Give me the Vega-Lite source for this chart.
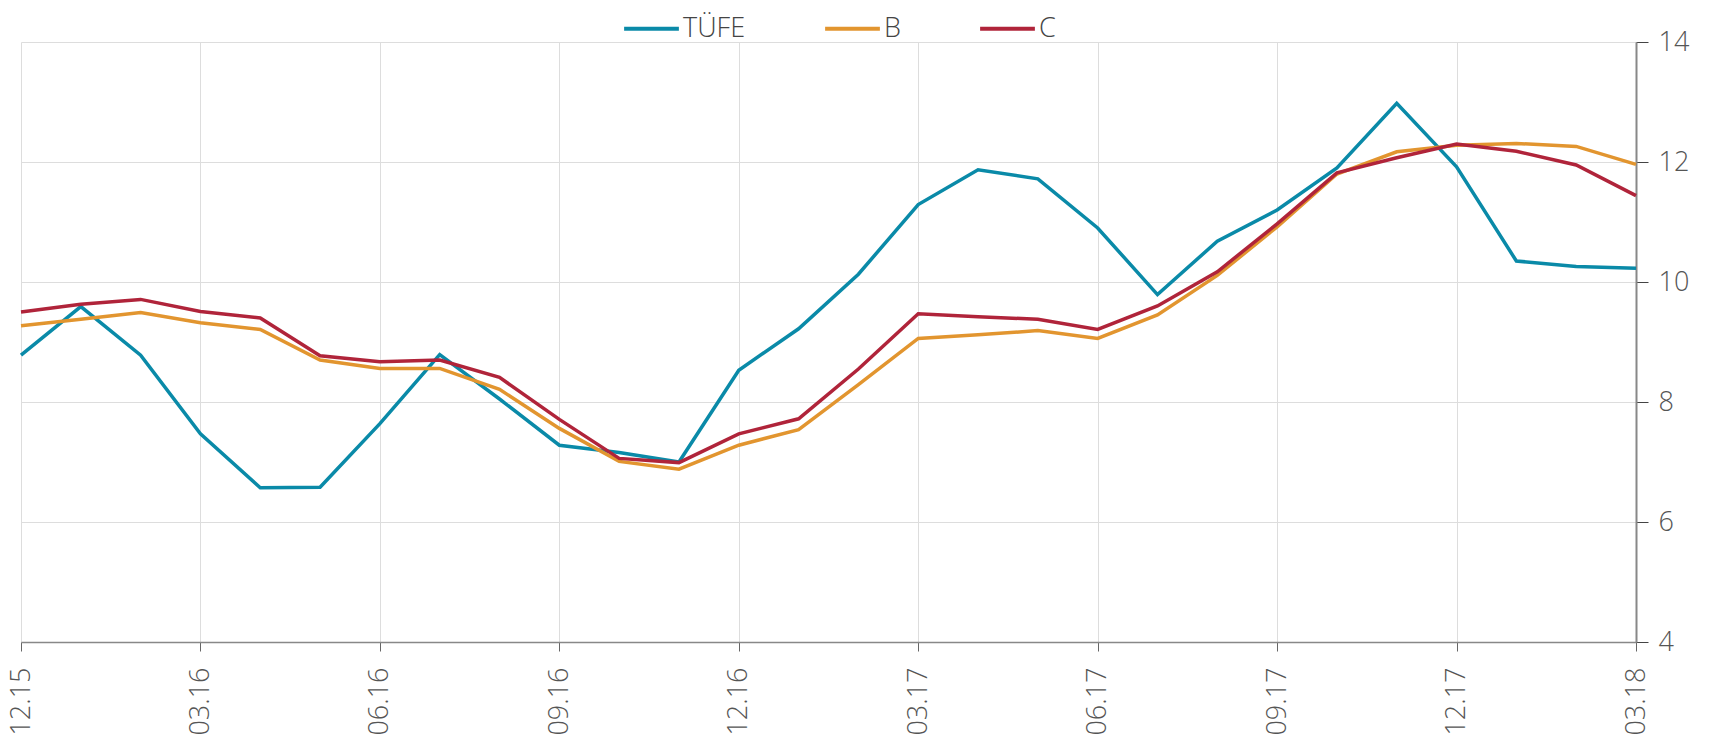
{
  "$schema": "https://vega.github.io/schema/vega-lite/v6.json",
  "autosize": "none",
  "width": 1615,
  "height": 600,
  "padding": {"left": 21, "top": 42, "right": 91, "bottom": 101},
  "background": "white",
  "config": {
    "font": "Open Sans",
    "view": {"stroke": null}
  },
  "data": {"values": [
    {"month": "12.15", "series": "TÜFE", "value": 8.78},
    {"month": "01.16", "series": "TÜFE", "value": 9.59},
    {"month": "02.16", "series": "TÜFE", "value": 8.78},
    {"month": "03.16", "series": "TÜFE", "value": 7.47},
    {"month": "04.16", "series": "TÜFE", "value": 6.57},
    {"month": "05.16", "series": "TÜFE", "value": 6.58},
    {"month": "06.16", "series": "TÜFE", "value": 7.64},
    {"month": "07.16", "series": "TÜFE", "value": 8.79},
    {"month": "08.16", "series": "TÜFE", "value": 8.05},
    {"month": "09.16", "series": "TÜFE", "value": 7.28},
    {"month": "10.16", "series": "TÜFE", "value": 7.16},
    {"month": "11.16", "series": "TÜFE", "value": 7.0},
    {"month": "12.16", "series": "TÜFE", "value": 8.53},
    {"month": "01.17", "series": "TÜFE", "value": 9.22},
    {"month": "02.17", "series": "TÜFE", "value": 10.13},
    {"month": "03.17", "series": "TÜFE", "value": 11.29},
    {"month": "04.17", "series": "TÜFE", "value": 11.87},
    {"month": "05.17", "series": "TÜFE", "value": 11.72},
    {"month": "06.17", "series": "TÜFE", "value": 10.9},
    {"month": "07.17", "series": "TÜFE", "value": 9.79},
    {"month": "08.17", "series": "TÜFE", "value": 10.68},
    {"month": "09.17", "series": "TÜFE", "value": 11.2},
    {"month": "10.17", "series": "TÜFE", "value": 11.9},
    {"month": "11.17", "series": "TÜFE", "value": 12.98},
    {"month": "12.17", "series": "TÜFE", "value": 11.92},
    {"month": "01.18", "series": "TÜFE", "value": 10.35},
    {"month": "02.18", "series": "TÜFE", "value": 10.26},
    {"month": "03.18", "series": "TÜFE", "value": 10.23},
    {"month": "12.15", "series": "B", "value": 9.27},
    {"month": "01.16", "series": "B", "value": 9.38},
    {"month": "02.16", "series": "B", "value": 9.49},
    {"month": "03.16", "series": "B", "value": 9.32},
    {"month": "04.16", "series": "B", "value": 9.21},
    {"month": "05.16", "series": "B", "value": 8.7},
    {"month": "06.16", "series": "B", "value": 8.56},
    {"month": "07.16", "series": "B", "value": 8.56},
    {"month": "08.16", "series": "B", "value": 8.21},
    {"month": "09.16", "series": "B", "value": 7.56},
    {"month": "10.16", "series": "B", "value": 7.01},
    {"month": "11.16", "series": "B", "value": 6.88},
    {"month": "12.16", "series": "B", "value": 7.28},
    {"month": "01.17", "series": "B", "value": 7.54},
    {"month": "02.17", "series": "B", "value": 8.29},
    {"month": "03.17", "series": "B", "value": 9.06},
    {"month": "04.17", "series": "B", "value": 9.12},
    {"month": "05.17", "series": "B", "value": 9.19},
    {"month": "06.17", "series": "B", "value": 9.06},
    {"month": "07.17", "series": "B", "value": 9.45},
    {"month": "08.17", "series": "B", "value": 10.11},
    {"month": "09.17", "series": "B", "value": 10.92},
    {"month": "10.17", "series": "B", "value": 11.8},
    {"month": "11.17", "series": "B", "value": 12.17},
    {"month": "12.17", "series": "B", "value": 12.28},
    {"month": "01.18", "series": "B", "value": 12.31},
    {"month": "02.18", "series": "B", "value": 12.26},
    {"month": "03.18", "series": "B", "value": 11.96},
    {"month": "12.15", "series": "C", "value": 9.5},
    {"month": "01.16", "series": "C", "value": 9.63},
    {"month": "02.16", "series": "C", "value": 9.71},
    {"month": "03.16", "series": "C", "value": 9.51},
    {"month": "04.16", "series": "C", "value": 9.4},
    {"month": "05.16", "series": "C", "value": 8.77},
    {"month": "06.16", "series": "C", "value": 8.67},
    {"month": "07.16", "series": "C", "value": 8.7},
    {"month": "08.16", "series": "C", "value": 8.41},
    {"month": "09.16", "series": "C", "value": 7.71},
    {"month": "10.16", "series": "C", "value": 7.06},
    {"month": "11.16", "series": "C", "value": 6.99},
    {"month": "12.16", "series": "C", "value": 7.47},
    {"month": "01.17", "series": "C", "value": 7.72},
    {"month": "02.17", "series": "C", "value": 8.55},
    {"month": "03.17", "series": "C", "value": 9.47},
    {"month": "04.17", "series": "C", "value": 9.42},
    {"month": "05.17", "series": "C", "value": 9.38},
    {"month": "06.17", "series": "C", "value": 9.21},
    {"month": "07.17", "series": "C", "value": 9.6},
    {"month": "08.17", "series": "C", "value": 10.17},
    {"month": "09.17", "series": "C", "value": 10.97},
    {"month": "10.17", "series": "C", "value": 11.82},
    {"month": "11.17", "series": "C", "value": 12.07},
    {"month": "12.17", "series": "C", "value": 12.3},
    {"month": "01.18", "series": "C", "value": 12.18},
    {"month": "02.18", "series": "C", "value": 11.95},
    {"month": "03.18", "series": "C", "value": 11.44}
  ]},
  "mark": {"type": "line", "strokeWidth": 3.5},
  "encoding": {
    "x": {
      "field": "month",
      "type": "ordinal",
      "sort": null,
      "scale": {"type": "point", "padding": 0},
      "axis": {
        "title": null,
        "values": ["12.15", "03.16", "06.16", "09.16", "12.16", "03.17", "06.17", "09.17", "12.17", "03.18"],
        "labelAngle": 270,
        "labelAlign": "right",
        "labelBaseline": "middle",
        "labelFontSize": 27,
        "labelFontWeight": 300,
        "labelColor": "#555555",
        "labelPadding": 16,
        "tickSize": 9,
        "tickColor": "#666666",
        "domainColor": "#888888",
        "domainWidth": 1.5,
        "grid": true,
        "gridColor": "#dddddd",
        "gridWidth": 1
      }
    },
    "y": {
      "field": "value",
      "type": "quantitative",
      "scale": {"domain": [4, 14], "nice": false, "zero": false},
      "axis": {
        "orient": "right",
        "title": null,
        "values": [4, 6, 8, 10, 12, 14],
        "labelFontSize": 27,
        "labelFontWeight": 300,
        "labelColor": "#555555",
        "labelPadding": 10,
        "tickSize": 12,
        "tickColor": "#444444",
        "domainColor": "#888888",
        "domainWidth": 2,
        "grid": true,
        "gridColor": "#dddddd",
        "gridWidth": 1
      }
    },
    "color": {
      "field": "series",
      "type": "nominal",
      "scale": {"domain": ["TÜFE", "B", "C"], "range": ["#0A8AA8", "#E2952F", "#B0243A"]},
      "legend": {
        "title": null,
        "orient": "none",
        "direction": "horizontal",
        "legendX": 601,
        "legendY": -43,
        "symbolType": "stroke",
        "symbolSize": 3000,
        "symbolStrokeWidth": 4,
        "labelFontSize": 27,
        "labelFontWeight": 300,
        "labelColor": "#444444",
        "labelOffset": 2,
        "columnPadding": 71
      }
    }
  }
}
